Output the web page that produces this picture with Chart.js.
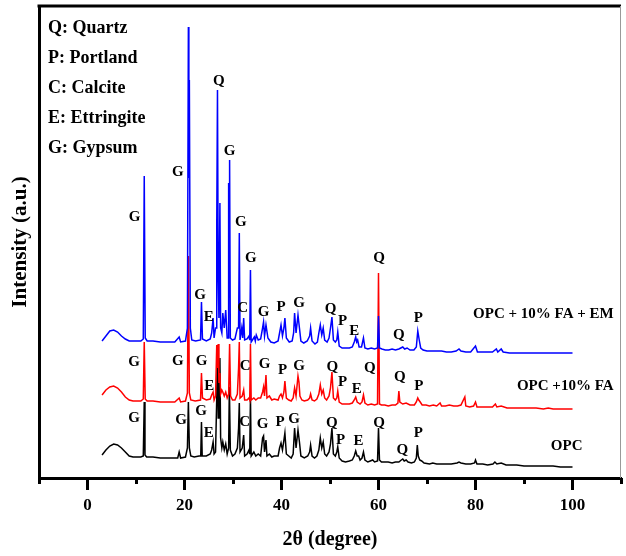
<!DOCTYPE html>
<html>
<head>
<meta charset="utf-8">
<script src="https://cdn.jsdelivr.net/npm/chart.js@4.4.1/dist/chart.umd.min.js"></script>
<style>
  html, body { margin: 0; padding: 0; background: #fff; }
  canvas { display: block; }
</style>
</head>
<body>
<canvas id="xrd" width="626" height="556"></canvas>
<script>
// XRD patterns, [2theta (deg), intensity (a.u., offset per sample)]
var opc = [
  [3.0,23],[3.8,28],[4.6,32],[5.4,34],[6.2,33],[7.0,30],[7.8,26],[8.6,22],[9.4,21],[10.2,21],[11.0,21],[11.5,22],[11.7,76],[11.85,23],[12.2,21],
  [13.5,21],[15.0,20],[17.0,20],[18.6,20],[18.9,26],[19.2,20],[20.2,21],[20.6,30],[20.8,76],[21.0,30],[21.3,22],[22.0,21],[23.0,22],[23.35,22],[23.5,56],[23.65,22],
  [24.5,22],[25.3,24],[25.6,28],[25.9,36],[26.1,24],[26.4,26],[26.65,80],[26.8,130],[26.95,60],[27.1,90],[27.3,120],[27.45,40],[27.7,30],[27.9,36],[28.2,28],
  [28.5,34],[28.8,24],[29.1,30],[29.25,91],[29.45,28],[29.9,22],[30.4,24],[30.9,30],[31.15,50],[31.3,75],[31.45,26],[31.9,30],[32.2,43],[32.4,22],[32.9,24],
  [33.3,28],[33.45,24],[33.6,81],[33.75,22],[34.3,26],[34.7,22],[35.2,24],[35.7,22],[36.1,40],[36.3,42],[36.5,26],[36.8,38],[37.0,22],[37.5,24],[38.0,21],
  [38.5,22],[39.3,22],[39.6,30],[39.9,35],[40.2,28],[40.5,38],[40.7,45],[41.0,24],[41.5,22],[42.0,20],[42.4,24],[42.7,50],[43.0,30],[43.4,48],[43.7,36],
  [44.0,22],[44.7,20],[45.4,22],[45.8,26],[46.0,33],[46.3,22],[46.8,20],[47.3,22],[47.7,28],[48.0,40],[48.3,30],[48.6,36],[48.9,24],[49.3,22],[49.8,26],
  [50.1,34],[50.4,50],[50.7,24],[51.1,22],[51.4,26],[51.6,31],[51.9,20],[52.5,17],[53.2,16],[54.0,17],[54.6,18],[55.0,22],[55.3,27],[55.6,22],[55.9,22],
  [56.2,18],[56.6,20],[56.9,26],[57.2,18],[57.8,16],[58.3,17],[58.8,18],[59.2,16],[59.8,17],[60.0,50],[60.2,18],[60.6,16],[61.3,16],[62.0,16],[62.8,15],
  [63.5,16],[64.2,16],[64.7,18],[65.0,19],[65.3,17],[65.7,18],[66.1,16],[66.8,15],[67.4,16],[67.8,20],[68.0,33],[68.2,22],[68.5,18],[68.9,17],[69.4,15],
  [70.5,14],[71.2,15],[72.0,14],[73.0,14],[74.0,14],[75.0,14],[76.2,15],[76.6,16],[77.0,15],[78.0,14],[79.0,14],[79.8,15],[80.0,18],[80.3,14],[81.5,14],
  [82.5,13],[83.6,14],[84.0,16],[84.4,14],[85.3,15],[86.3,13],[87.5,13],[88.5,13],[90.0,12],[91.5,12],[93.0,12],[94.5,12],[96.0,12],[97.5,11],[99.0,11],[100.0,11]
];

var opcFa = [
  [3.0,83],[3.8,88],[4.6,91],[5.4,92],[6.2,90],[7.0,86],[7.8,81],[8.6,78],[9.4,77],[10.2,77],[11.0,77],[11.5,79],[11.7,136],[11.9,79],[12.3,77],
  [13.5,77],[15.0,76],[16.5,76],[18.0,76],[18.9,80],[19.2,76],[20.2,77],[20.6,85],[20.8,222],[21.0,85],[21.3,78],[22.2,77],[23.3,78],[23.5,105],[23.7,80],
  [24.5,78],[25.3,79],[25.6,83],[25.9,86],[26.1,78],[26.4,82],[26.65,133],[26.8,110],[26.95,134],[27.1,95],[27.3,105],[27.45,84],[27.7,88],[27.9,86],[28.2,82],
  [28.5,86],[28.8,80],[29.1,84],[29.3,134],[29.5,82],[29.9,78],[30.4,78],[30.9,84],[31.15,110],[31.3,136],[31.45,80],[31.9,82],[32.2,88],[32.4,78],[32.9,78],
  [33.3,80],[33.45,78],[33.6,134],[33.75,78],[34.3,80],[34.7,78],[35.2,80],[35.7,80],[36.1,86],[36.3,91],[36.5,82],[36.8,103],[37.0,80],[37.5,82],[38.0,78],
  [38.5,79],[39.3,78],[39.6,82],[39.9,84],[40.2,80],[40.5,86],[40.7,97],[41.0,80],[41.5,78],[42.0,77],[42.4,80],[42.7,90],[43.0,82],[43.4,102],[43.6,96],
  [43.8,82],[44.2,78],[44.7,77],[45.4,78],[45.8,80],[46.0,84],[46.3,78],[46.8,77],[47.3,79],[47.7,84],[48.0,93],[48.3,84],[48.6,88],[48.9,80],[49.3,78],
  [49.8,82],[50.1,90],[50.4,106],[50.7,80],[51.1,78],[51.4,80],[51.6,87],[51.9,76],[52.5,74],[53.2,74],[54.0,74],[54.6,75],[55.0,78],[55.3,81],[55.6,76],
  [56.2,74],[56.6,76],[56.9,83],[57.2,75],[57.8,73],[58.5,74],[59.2,73],[59.8,74],[60.0,205],[60.2,74],[60.6,73],[61.3,73],[62.0,72],[62.8,73],[63.5,73],
  [64.0,75],[64.2,87],[64.4,76],[65.0,74],[65.7,75],[66.5,73],[67.4,73],[67.8,76],[68.1,80],[68.3,78],[68.6,76],[69.0,73],[69.8,73],[70.5,72],[71.3,73],
  [72.0,72],[72.7,75],[73.0,72],[73.8,72],[74.6,73],[75.5,72],[76.3,72],[77.0,73],[77.8,81],[78.0,72],[78.8,71],[79.6,72],[80.0,76],[80.3,71],[81.2,71],
  [82.4,71],[83.5,71],[84.1,74],[84.4,71],[85.3,72],[86.5,70],[88.0,70],[89.5,70],[91.0,70],[92.5,70],[94.0,69],[95.0,70],[96.0,69],[97.5,69],[99.0,69],[100.0,69]
];

var opcFaEm = [
  [3.0,137],[3.8,142],[4.6,147],[5.4,148],[6.2,146],[7.0,142],[7.8,139],[8.6,137],[9.4,137],[10.2,137],[11.0,137],[11.5,139],[11.7,302],[11.9,140],[12.3,137],
  [13.5,137],[15.0,136],[16.5,136],[18.0,136],[18.9,141],[19.2,136],[20.2,137],[20.6,150],[20.8,451],[20.9,300],[21.0,398],[21.2,150],[21.5,138],[22.3,137],
  [23.3,138],[23.5,176],[23.7,139],[24.5,137],[25.3,139],[25.6,145],[25.9,160],[26.1,140],[26.4,150],[26.55,150],[26.65,253],[26.8,388],[26.95,200],[27.1,160],
  [27.3,275],[27.45,150],[27.7,145],[27.9,165],[28.2,150],[28.5,168],[28.8,140],[29.0,140],[29.1,295],[29.2,240],[29.3,318],[29.45,140],[29.9,138],[30.4,139],
  [30.9,150],[31.15,150],[31.3,245],[31.45,138],[31.8,150],[32.0,140],[32.2,160],[32.4,138],[32.9,139],[33.3,142],[33.45,138],[33.6,208],[33.75,136],[34.4,141],
  [34.6,137],[34.8,143],[35.2,138],[35.7,139],[36.1,150],[36.3,156],[36.5,142],[36.8,153],[37.2,140],[37.8,136],[38.5,135],[39.3,137],[39.6,145],[39.9,153],
  [40.2,142],[40.5,150],[40.7,160],[41.0,140],[41.6,136],[42.2,137],[42.5,145],[42.7,165],[43.0,145],[43.4,163],[43.7,150],[44.0,137],[44.6,135],[45.3,137],
  [45.8,142],[46.0,150],[46.3,137],[46.9,134],[47.4,136],[47.7,145],[48.0,153],[48.3,143],[48.6,150],[48.9,138],[49.4,136],[49.8,140],[50.1,150],[50.4,161],
  [50.7,138],[51.1,136],[51.4,138],[51.6,146],[51.9,132],[52.5,130],[53.2,130],[54.0,130],[54.6,131],[55.0,136],[55.3,141],[55.5,136],[55.7,138],[56.0,131],
  [56.5,131],[56.9,140],[57.2,130],[57.8,129],[58.5,130],[59.2,129],[59.8,130],[60.0,162],[60.2,130],[60.7,129],[61.4,128],[62.1,128],[62.8,129],[63.5,128],
  [64.2,129],[64.6,130],[65.0,131],[65.4,129],[65.9,130],[66.5,128],[67.3,128],[67.8,131],[68.1,147],[68.4,138],[68.7,130],[69.2,128],[70.0,127],[71.0,127],
  [72.0,127],[73.0,127],[74.0,126],[75.0,126],[76.0,127],[76.6,129],[77.0,127],[78.0,126],[79.0,126],[80.0,132],[80.4,126],[81.5,126],[82.5,126],[83.5,126],
  [84.3,129],[84.6,126],[85.3,129],[85.7,126],[87.0,125],[88.5,125],[90.0,125],[91.5,125],[93.0,125],[94.5,125],[96.0,125],[97.5,125],[99.0,125],[100.0,125]
];

// phase letters over the peaks: [letter, 2theta, intensity]
var opcMarks = [
  ['G',9.6,60],['G',19.3,58],['G',23.4,67],['E',25.0,45],['C',32.4,56],['G',36.1,54],['P',39.7,56],['G',42.6,59],
  ['Q',50.4,55],['P',52.2,38],['E',55.9,37],['Q',60.1,55],['Q',64.9,28],['P',68.2,45]
];
var opcFaMarks = [
  ['G',9.6,116],['G',18.6,117],['G',23.5,117],['E',25.1,92],['C',32.5,112],['G',36.5,114],['P',40.2,108],['G',43.6,112],
  ['Q',50.5,111],['P',52.6,96],['E',55.5,89],['Q',58.2,110],['Q',64.4,101],['P',68.3,92]
];
var opcFaEmMarks = [
  ['G',9.7,261],['G',18.6,306],['Q',27.1,397],['G',29.3,327],['G',31.6,256],['G',33.7,220],['G',23.2,183],['E',25.0,161],
  ['C',32.0,170],['G',36.3,166],['P',39.9,171],['G',43.6,175],['Q',50.1,169],['P',52.6,157],['E',55.0,147],['Q',60.1,220],
  ['Q',64.2,143],['P',68.2,160]
];

var sampleNames = ['OPC + 10% FA + EM', 'OPC +10% FA', 'OPC'];
var nameAnchors = [[94.0,164], [98.5,92], [98.8,32]];
var phaseKey = ['Q: Quartz', 'P: Portland', 'C: Calcite', 'E: Ettringite', 'G: Gypsum'];

var serif = '"Liberation Serif", "Times New Roman", serif';

function toXY(arr) {
  return arr.map(function (p) { return {x: p[0], y: p[1]}; });
}

// letters, sample names, phase key and the rest of the box
var annotate = {
  id: 'annotate',
  afterDatasetsDraw: function (chart) {
    var ctx = chart.ctx, area = chart.chartArea;
    var sx = chart.scales.x, sy = chart.scales.y;
    ctx.save();
    ctx.fillStyle = '#000';
    ctx.textAlign = 'center';
    ctx.textBaseline = 'middle';
    ctx.font = 'bold 15px ' + serif;
    [opcMarks, opcFaMarks, opcFaEmMarks].forEach(function (marks) {
      marks.forEach(function (m) {
        ctx.fillText(m[0], sx.getPixelForValue(m[1]), sy.getPixelForValue(m[2]));
      });
    });
    sampleNames.forEach(function (n, i) {
      ctx.fillText(n, sx.getPixelForValue(nameAnchors[i][0]), sy.getPixelForValue(nameAnchors[i][1]));
    });
    ctx.textAlign = 'left';
    ctx.font = 'bold 18px ' + serif;
    phaseKey.forEach(function (k, i) {
      ctx.fillText(k, area.left + 9, area.top + 22 + 30 * i);
    });
    // top and right edges of the frame
    ctx.strokeStyle = '#000';
    ctx.lineWidth = 3;
    ctx.beginPath();
    ctx.moveTo(area.left - 1.5, area.top);
    ctx.lineTo(area.right, area.top);
    ctx.stroke();
    ctx.strokeStyle = '#999';
    ctx.lineWidth = 1;
    ctx.beginPath();
    ctx.moveTo(area.right - 0.5, area.top);
    ctx.lineTo(area.right - 0.5, area.bottom);
    ctx.stroke();
    ctx.restore();
  }
};

var canvas = document.getElementById('xrd');
var chart = new Chart(canvas, {
  type: 'line',
  data: {
    datasets: [
      {label: sampleNames[0], data: toXY(opcFaEm), borderColor: '#0000ff'},
      {label: sampleNames[1], data: toXY(opcFa), borderColor: '#ff0000'},
      {label: sampleNames[2], data: toXY(opc), borderColor: '#000000'}
    ]
  },
  options: {
    responsive: false,
    animation: false,
    devicePixelRatio: 1,
    layout: {padding: {top: 6, left: 0, right: 0, bottom: 0}},
    elements: {
      line: {borderWidth: 1.5, tension: 0},
      point: {radius: 0, hoverRadius: 0}
    },
    plugins: {legend: {display: false}, tooltip: {enabled: false}},
    scales: {
      x: {
        type: 'linear',
        min: -10,
        max: 110,
        ticks: {
          stepSize: 10,
          autoSkip: false,
          maxRotation: 0,
          padding: 5,
          color: '#000',
          font: {family: serif, size: 17, weight: 'bold'},
          callback: function (v) { return (v % 20 === 0 && v >= 0 && v <= 100) ? v : ''; }
        },
        grid: {
          drawOnChartArea: false,
          tickLength: 12,
          tickWidth: 3,
          tickColor: function (c) { return c.tick.value % 20 === 0 ? '#000' : 'rgba(0,0,0,0)'; }
        },
        border: {display: true, color: '#000', width: 3},
        title: {
          display: true,
          text: '2θ (degree)',
          color: '#000',
          font: {family: serif, size: 20, weight: 'bold'},
          padding: {top: 0, bottom: 4}
        },
        afterFit: function (s) { s.height = 78; }
      },
      xMinor: {
        type: 'linear',
        position: 'bottom',
        weight: -1,
        min: -10,
        max: 110,
        ticks: {display: false, stepSize: 10, autoSkip: false},
        grid: {
          drawOnChartArea: false,
          tickLength: 6,
          tickWidth: 3,
          tickColor: function (c) { return c.tick.value % 20 !== 0 ? '#000' : 'rgba(0,0,0,0)'; }
        },
        border: {display: false},
        afterFit: function (s) { s.height = 0; }
      },
      y: {
        min: 0,
        max: 472,
        ticks: {display: false},
        grid: {display: false},
        border: {display: true, color: '#000', width: 3},
        title: {
          display: true,
          text: 'Intensity (a.u.)',
          color: '#000',
          font: {family: serif, size: 21, weight: 'bold'},
          padding: {top: 8, bottom: 0}
        },
        afterFit: function (s) { s.width = 39; }
      }
    }
  },
  plugins: [annotate]
});
</script>
</body>
</html>
